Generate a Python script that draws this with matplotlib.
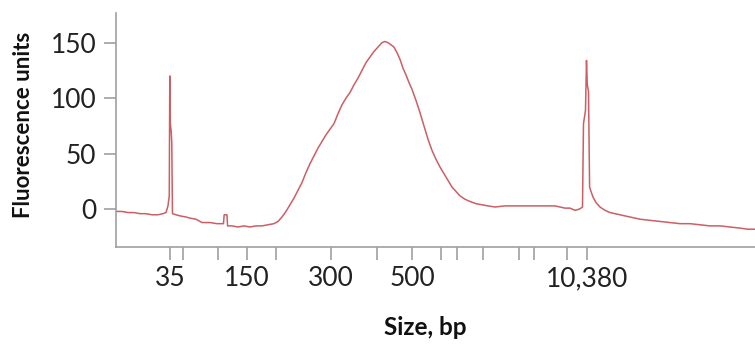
import matplotlib.pyplot as plt
import numpy as np

plt.rcParams['font.family'] = ['Lato', 'DejaVu Sans']

# migration position (arbitrary units) and fluorescence trace
pos = [116, 122, 128, 134, 140, 146, 152, 158, 163, 166, 168, 169.3, 169.8, 170.4, 171.2, 171.8, 172.5,
       176, 180, 186, 190, 196, 202, 210, 217, 223.5, 224.2, 227, 227.6, 232, 238, 244, 250, 256, 262, 268,
       274, 278, 282, 286, 290, 294, 298, 302, 306, 310, 314, 318, 322, 326, 330, 334, 338, 342, 346,
       350, 354, 358, 362, 366, 370, 374, 378, 382, 385, 388, 391, 394, 397, 400, 403, 406, 409, 412,
       416, 420, 424, 428, 432, 436, 440, 444, 448, 452, 456, 460, 465, 470, 476, 482, 488, 495, 505,
       515, 530, 545, 555, 560, 565, 570, 575, 579, 581, 582.5, 583.5, 585.5, 586.5, 587.3, 588.5, 589.6,
       591, 593, 596, 600, 605, 610, 615, 620, 630, 640, 650, 660, 670, 680, 690, 700, 710, 720, 730,
       740, 748, 755]
fu = [-2, -2, -3, -3, -4, -4, -5, -5, -4, -3, 3, 12, 120, 77, 70, 60, -4,
      -5, -6, -7, -8, -9, -12, -12, -13, -13, -5, -5, -15, -15, -16, -15, -16, -15, -15, -14,
      -13, -11, -7, -2, 4, 10, 17, 24, 33, 41, 48, 55, 61, 67, 72, 77, 86, 94, 100,
      105, 112, 118, 125, 132, 137, 142, 146, 150, 151, 150, 148, 146, 141, 135, 127, 121, 114, 108,
      98, 87, 75, 63, 53, 45, 38, 32, 26, 20, 16, 12, 9, 7, 5, 4, 3, 2, 3,
      3, 3, 3, 3, 2, 1, 1, -1, 0, 1, 2, 77, 89, 134, 112, 106, 20,
      16, 11, 6, 2, -1, -3, -4, -5, -7, -9, -10, -11, -12, -13, -13, -14, -15, -15, -16,
      -17, -18, -18]

# ladder peaks: positions and sizes
ladder_pos = [170, 183, 218, 247, 276, 331, 377, 412, 441, 457, 483, 519, 534, 567, 587]
ladder_bp = [35, 50, 100, 150, 200, 300, 400, 500, 700, 1000, 1500, 2000, 3000, 7000, 10380]
shown_bp = [35, 150, 300, 500, 10380]

fig = plt.figure(figsize=(7.55, 3.44), dpi=100)
ax = fig.add_axes([0.1536, 0.282, 0.8464, 0.68])
ax.plot(pos, fu, color='#cd5e64', lw=1.1)

ax.set_xlim(116, 755)
ax.set_ylim(-34, 176.6)
ax.set_yticks([0, 50, 100, 150])
ax.set_xticks(ladder_pos)
ax.set_xticklabels([f'{b:,}' if b in shown_bp else '' for b in ladder_bp])

for s in ['top', 'right']:
    ax.spines[s].set_visible(False)
for s in ['left', 'bottom']:
    ax.spines[s].set_color('#a0a0a0')
    ax.spines[s].set_linewidth(1.2)
ax.tick_params(direction='out', length=9, width=1.2, color='#a0a0a0',
               labelsize=19, labelcolor='#222222', pad=5)

ax.set_ylabel('Fluorescence units', fontsize=16, fontweight='bold', color='#111111')
ax.yaxis.set_label_coords(-0.128, 0.52)
ax.set_xlabel('Size, bp', fontsize=17.5, fontweight='bold', color='#111111')
ax.xaxis.set_label_coords(0.484, -0.295)

plt.savefig('out.png')
